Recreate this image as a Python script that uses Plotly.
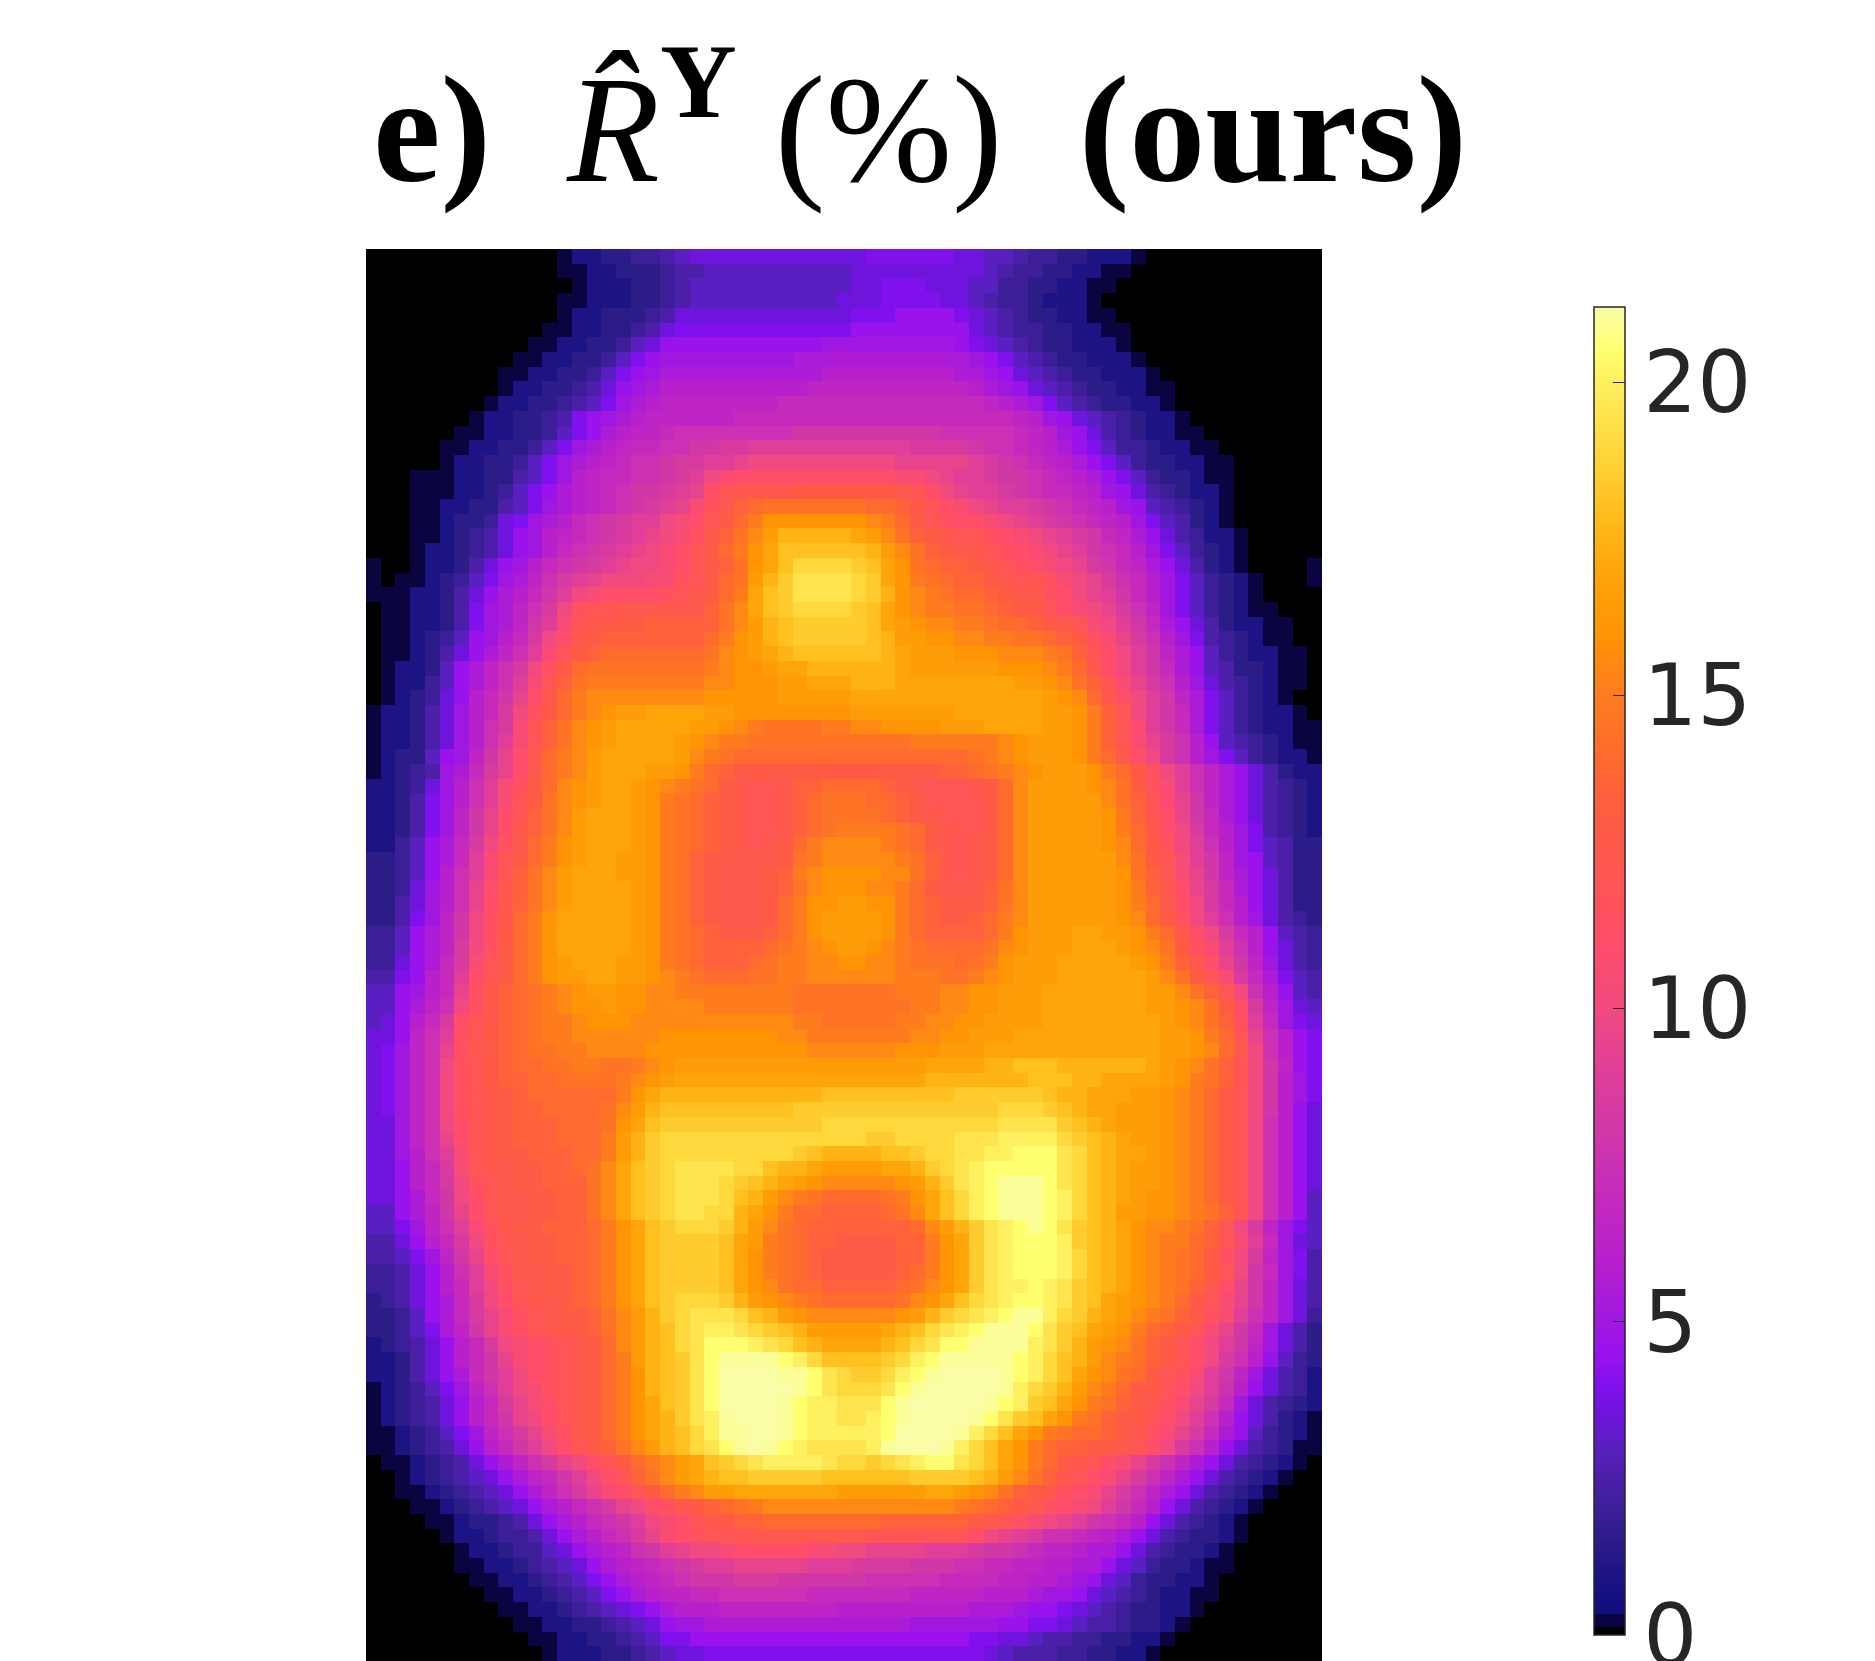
import plotly.graph_objects as go

# Residual per cell, in half-percent steps (1 = outline cells just above zero)
rows = [
    [0]*13+[1,2,2,3,3,4,4,5,6]+[7]*12+[8]*6+[7,7,6,6,5,4,4,3,3,2,2,2,1],
    [0]*13+[1,1,2,2,3,3,3,4,5,5,6,6]+[6]*8+[7]*9+[6,5,4,4,3,3,2,2,1,1],
    [0]*14+[1,2,2,2,3,3,4,5,6,6]+[6]*9+[7,7,8,8,8,7,7,7,6,6,4,4,3,3,2,2,1,1],
    [0]*13+[1,1,2,2,2,3,3,4,5]+[6]*10+[7,7,7,8,8,8,8,7,7,6,5,4,4,3,2,2,2,1],
    [0]*13+[1,2,2,3,3,3,4,5]+[7]*12+[8,8,8,9,9,9,9,8,7,6,5,4,3,3,2,2,1,1],
    [0]*12+[1,1,2,2,3,3,4,5,7]+[8]*12+[9]*8+[7,6,5,4,4,3,3,2,2,1,1],
    [0]*11+[1,1,2,2,3,3,4,6,7]+[9]*11+[10]*9+[9,8,7,6,5,4,3,3,2,2,2,1],
    [0]*10+[1,1,2,2,3,3,4,6,8,9]+[10]*9+[11]*12+[10,9,8,6,5,4,3,3,2,2,2,1],
    [0]*9+[1,1,2,2,3,3,4,6,8,9,10]+[11]*11+[12]*9+[11,11,10,9,7,6,5,4,3,3,2,2,2,1],
    [0]*9+[1,2,2,3,3,4,5,7,9,10,11]+[12]*10+[13]*11+[12,11,10,9,7,6,5,4,3,3,2,2,1,1],
    [0]*8+[1,2,2,3,3,4,5,6,8,10,11,12]+[13]*8+[14]*14+[13,12,11,10,8,6,5,4,3,3,2,2,1],
    [0]*7+[1,2,2,3,3,4,5,8,9,10,11,12]+[13]*6+[14]*19+[13,12,10,9,7,6,5,4,3,2,2,1],
    [0]*6+[1,1,2,2,3,3,4,6,8,9,11,12,13,13,14]+[15]*8+[16]*10+[15]*5+[14,13,12,10,9,7,5,4,3,2,2,1,1],
    [0]*5+[1,1,2,2,3,3,4,6,8,10,11,12,13,14,14,15,15,16,16,17,17]+[18]*11+[17]*4+[16,15,15,14,13,12,11,9,8,6,4,4,3,2,2,1,1],
    [0]*5+[1,2,2,3,3,4,6,8,10,11,12,13,14,15,15,16,17,17,18,18,19]+[20]*10+[19]*5+[18,17,16,15,14,13,12,11,9,8,6,4,3,3,2,2,1,1],
    [0]*3+[1,1,1,2,2,3,3,5,6,8,10,12,13,14,14,15,15,16,17,18,20,21]+[22]*11+[21,21,20,19,18,18,17,16,16,15,14,13,12,11,9,8,6,4,3,3,2,1,1],
    [0]*3+[1,1,1,2,2,3,4,6,8,9,11,12,13,14,15,16,16,17,18,19,22,24]+[25]*4+[26]*7+[25,24,22,20,19,18,18,17,16,15,14,14,13,12,10,9,7,5,4,3,2,2,1],
    [0]*3+[1,1,2,2,3,3,5,6,8,10,11,12,13,14,15,16,17,18,19,21,23,25,27,28]+[29]*7+[28,28,27,26,24,22,21,20,19,18,18,17,16,15,14,13,12,10,9,6,5,4,3,2,1],
    [0]*3+[1,1,2,3,3,4,7,8,10,11,12,14,15,16,17,18,18,20,21,22,24,26,28,30]+[32]*7+[31,30,28,26,24,23,22,22,21,20,19,18,17,16,15,14,13,12,10,8,6,5,3,2,1],
    [0]*3+[1,1,2,3,4,5,7,9,10,12,13,14,15,16,17,18,19,20,21,23,25,27,29,31,33]+[35]*5+[34,33,31,29,27,26,25,24,24,23,22,21,20,19,18,17,16,14,13,11,9,7,5,4,2,2,1],
    [0]*3+[1,2,2,3,4,5,7,9,10,12,14,15,16,17,18,19,20,21,22,24,26,28,30,32,34,36]+[36]*4+[36,35,33,31,29,27,26,25,25,24,23,22,21,20,19,18,16,15,14,12,10,8,6,4,3,2,1],
    [1,0,0,1,2,2,3,5,7,9,10,12,14,15,16,17,18,19,20,20,21,22,24,25,27,29,32,34,36]+[38]*4+[37,36,34,32,29,28,27,27,26,25,24,23,22,21,20,19,17,16,14,13,11,9,7,5,3,2,1,0,0,0,0,1],
    [1,0,1,1,2,3,4,6,8,10,11,13,15,17,18,19,20,20,20,21,21,23,24,26,28,29,33,35,37]+[39]*4+[38,37,34,32,30,29,28,27,27,26,25,24,24,23,21,20,19,17,15,14,12,10,8,6,4,3,2,1,0,0,0,1],
    [1,1,1,2,2,3,5,7,9,11,12,14,16,18,20,21,22,22,22,22,23,24,25,26,28,30,34,36,37]+[39]*4+[38,37,35,32,31,30,29,28,28,27,26,25,25,23,22,20,19,18,16,14,12,10,8,6,4,3,2,1],
    [0,1,1,2,2,3,5,8,10,11,13,15,17,20,23,24,24,25,25,25,25,25,25,27,29,31,34,36,37,38,38,38,38,37,36,34,32,31,30,30,29,29,28,27,26,26,24,22,21,20,19,17,15,13,10,8,6,4,3,2,1,1],
    [0,1,1,2,2,3,5,8,10,11,13,16,18,21,24,25,26,26,26,27,27,27,27,27,29,31,33,35,36,37,37,37,37,37,36,34,33,32,31,31,30,30,29,28,28,27,26,25,24,21,20,18,16,14,11,9,7,5,3,2,2,1,1],
    [0,1,1,2,3,4,6,9,10,12,14,17,20,22,25,26,27,27,27,27,27,27,27,28,30,32,33,35,36,37,37,37,37,37,36,35,33,33,32,32,31,31,30,30,29,29,28,27,26,23,21,19,17,15,12,10,8,5,4,3,2,1,1],
    [0,1,1,2,3,5,7,9,11,13,15,18,21,24,26,27,28,28,28,28,28,28,28,29,31,32,33,34,35,36,36,36,36,36,36,35,34,33,33,33,32,32,32,31,31,31,30,29,27,24,22,20,18,16,13,11,9,6,4,3,2,2,1,1],
    [0,1,2,2,3,6,9,11,13,15,17,20,23,26,28,29,29,29,29,29,29,29,29,30,31,32,32,33,34,34,35,35,35,35,35,35,34,33,33,33,33,33,33,32,32,32,31,30,28,25,22,20,18,16,14,11,9,6,5,3,3,2,1,1],
    [0,1,2,2,4,6,9,11,13,15,18,21,24,27,29,30,30,30,30,30,30,30,30,31,31,32,32,32,33,33,34,34,34,35,35,35,34,34,34,34,34,34,34,34,33,33,32,31,29,27,24,21,19,17,15,12,10,7,5,4,3,2,1,1],
    [0,1,2,3,4,7,9,12,14,16,19,22,25,28,30,31,31,31,31,31,31,31,31,32,32,32,32,32,33,33,33,33,33,34,34,34,34,34,34,34,34,34,34,34,34,34,33,32,31,28,25,22,20,18,16,13,11,8,6,4,3,2,1],
    [1,2,2,3,5,7,10,12,14,17,20,23,26,28,30,31,32,33,33,34,34,34,34,33,33,32,32,32,32,32,32,32,32,33,33,33,33,33,33,33,34,34,34,34,34,34,33,33,32,30,27,24,20,18,16,14,11,8,6,4,3,2,2,1],
    [1,2,2,3,5,7,10,12,15,17,21,24,27,29,31,32,33,34,34,34,34,34,33,33,32,31,30,29,29,29,29,30,30,31,31,32,32,32,32,33,33,33,34,34,34,34,33,33,32,30,27,24,21,18,16,14,11,8,6,4,3,2,2,1,1],
    [1,2,2,3,5,7,10,12,15,18,21,24,27,29,31,32,33,34,34,34,34,33,32,31,30,30,29,29,29,29,29,29,29,29,29,29,29,30,30,30,30,30,30,31,32,33,33,33,32,30,27,24,21,19,17,15,12,9,6,5,4,3,2,1,1],
    [1,2,3,3,6,9,10,13,16,19,22,25,28,30,31,33,34,34,34,34,34,33,31,30,29]+[28]*16+[29,30,31,32,33,33,33,32,30,28,25,22,20,17,15,12,10,8,6,4,3,2,2,1],
    [1,2,3,4,5,10,11,14,17,19,22,25,28,30,31,33,34,34,34,33,33,32,30,28,27]+[26]*14+[27,27,28,29,30,31,32,33,33,33,32,30,28,26,23,20,18,15,13,11,9,7,5,3,2,2],
    [2,2,3,4,7,10,12,15,18,21,23,26,28,31,32,33,34,34,33,32, 31,30,29,28,26,25,24,24,25,27,27,28,28,28,28,27,26,25,24,24,24,25,26,28,31, 33,33,33,33,32,31,29,26,23,21,18,15,13,11,9,7,5,4,3,2],
    [2,2,3,5,8,10,12,15,18,21,24,26,29,31,32,33,34,34,33,32, 30,29,28,27,26,25,24,24,25,27,28,29,29,29,28,28,27,26,24,24,24,24,26,28,31, 33,33,33,33,33,31,29,27,24,21,19,16,13,11,9,7,5,4,3,2],
    [2,2,3,5,8,10,13,16,19,22,24,27,29,31,33,34,34,34,33,32, 30,29,28,27,26,25,24,24,25,27,28,29,29,29,29,28,27,26,25,24,24,24,26,28,31, 33,33,33,33,33,32,30,27,24,22,19,16,14,11,9,7,5,4,3,2],
    [2,2,3,5,8,10,13,16,19,22,25,27,29,31,33,34,34,34,33,32, 30,29,28,27,26,25,24,24,25,27,28,29,30,30,30,30,29,28,26,25,24,24,26,28,31, 33,33,33,33,33,32,30,28,25,22,20,17,14,12,10,8,5,4,3,2],
    [2,2,4,6,9,11,14,17,20,23,25,28,30,32,33,34,34,34,33,32, 30,29,28,27,26,25,24,25,26,28,30,31,31,31,31,30,29,28,26,25,24,25,26,28,31, 33,33,33,33,33,32,31,28,26,23,20,18,15,12,10,8,6,5,3,3],
    [3,3,4,6,9,11,14,18,21,24,26,28,30,32,33,34,34,33,33,32, 30,29,27,26,25,25,25,25,26,29,30,31,31,31,31,31,30,29,27,25,24,25,26,28,31, 33,33,33,33,33,33,31,29,26,24,21,18,16,13,10,9,6,5,3,3],
    [3,3,4,6,9,12,15,18,21,24,27,29,31,33,34,34,34,33,33,32, 30,29,27,26,25,25,25,26,27,30,31,32,32,32,32,31,31,29,27,25,24,25,26,28,31, 33,33,33,33,33,33,32,29,27,24,21,19,16,13,11,9,7,5,3,3],
    [3,3,4,7,10,12,15,19,22,25,27,29,31,33,34,34,34,34,33,32, 30,29,27,26,25,25,25,26,27,29,31,32,32,32,31,31,30,28,26,25,25,25,27,29,31, 33,33,33,33,33,33,32,30,27,25,22,19,17,14,11,9,7,5,3,3],
    [3,3,5,7,10,12,15,19,22,25,27,29,31,33,34,34,34,34,33,32, 30,29,27,26,25,25,25,26,28,30,32,32,33,33,32,32,30,28,27,26,26,26,27,29,31, 33,33,33,33,33,33,32,30,28,25,22,20,17,14,12,9,7,5,3,3],
    [3,3,5,8,10,13,16,20,23,25,28,30,32,34,34,34,34,34,33,32, 30,29,27,26,25,25,25,26,28,30,32,33,33,33,33,32,30,28,27,26,26,27,28,30,31, 33,33,33,33,33,33,32,31,28,26,23,20,18,15,12,10,7,5,4,3],
    [4,4,6,9,11,13,16,20,23,26,28,30,32,34,34,34,34,34,33,32, 30,29,28,27,26,26,26,27,28,30,32,33,33,33,33,32,30,28,27,27,27,27,28,30,32, 33,33,33,34,34,33,33,32,30,28,25,22,20,17,14,12,9,6,5,4],
    [4,4,6,9,11,13,17,20,23,26,28,30,32,34,34,34,34,34,33,32, 30,29,28,27,27,27,27,28,29,30,31,32,33,33,32,31,30,29,28,28,28,28,29,31,32, 33,33,33,34,34,34,33,32,31,29,26,23,21,18,15,12,9,7,5,4],
    [4,4,7,9,11,14,17,21,24,26,28,30,32,33,34,34,34,33,33,32, 30,29,28,27,27,27,28,29,30,30,31,31,32,32,31,31,30,29,29,29,28,29,30,32,33, 33,33,34,34,34,34,34,33,32,30,27,25,22,19,16,13,10,7,5,4],
    [5,5,8,9,12,14,18,22,24,26,28,30,32,33,33,34,34,33,33,32, 31,30,29,28,28,28,29,29,30,30,31,31,31,31,31,31,30,30,30,29,29,30,31,32,33, 33,33,34,34,34,34,34,34,33,31,29,26,24,21,17,14,11,8,6,5],
    [6,6,9,10,12,14,19,23,25,27,28,29,30,31,32,33,33,32,32,31, 31,30,30,30,30,30,30,30,30,29,29,29,29,29,29,29,30,30,30,31,31,32,32,33,33, 33,34,34,34,34,34,34,34,33,33,31,29,27,24,20,15,12,9,6,5],
    [6,6,9,11,13,15,20,23,25,27,28,29,30,31,32,32,33,32,32,31, 31,31,31,30,30,30,30,30,30,29,29,29,29,29,29,29,29,30,30,31,31,32,32,33,33, 33,34,34,34,34,34,34,34,33,33,32,31,29,26,22,17,13,10,7,6],
    [6,7,9,12,14,17,22,24,25,27,28,29,30,30,31,32,32,32,31,31, 31,31,31,31,31,31,31,31,31,30,30,29,29,29,29,29,30,30,31,31,32,32,33,33,33, 33,34,34,34,34,34,34,34,34,33,32,31,29,27,23,18,14,10,8,7],
    [7,7,9,13,15,18,23,24,26,27,28,29,30,30,31,31,31,31,31,31, 32,32,32,32,32,32,32,32,31,31,30,30,30,30,30,30,30,31,31,32,32,33,33,33,34, 34,34,34,34,34,34,34,34,34,33,33,32,30,28,24,19,15,12,9,8],
    [7,8,10,13,15,19,23,25,26,27,28,29,29,30,30,31,31,31,31,32, 32,32,32,32,32,32,32,32,32,32,31,31,31,31,31,31,32,32,32,33,33,33,34,34,34, 34,34,34,34,34,34,34,34,34,33,33,32,31,28,25,20,15,12,9,8],
    [7,8,10,13,15,20,23,24,26,27,28,28,29,29,30,30,29,29,30,31,32,33,33,33,33,33,33,33,33,33,33,33,33,33,33,33,33,33,34,34,34,34,35,35,36,36,36,35,35,35,35,35,35,34,33,32,31,29,27,24,20,16,13,9,8],
    [7,8,10,13,15,20,23,24,26,27,27,28,28,29,29,29,29,30,31,32,33,34,34,34,34,34,34,34,34,34,34,34,34,34,34,34,34,34,35,35,35,35,35,35,35,36,36,36,35,35,34,34,34,34,33,32,30,29,27,24,20,16,12,10,8],
    [7,8,10,13,15,20,23,24,25,26,27,28,28,28,28,28,28,30,32,34,35,35,35,35,35,35,35,35,35,35,35,36,36,36,36,36,36,36,36,36,37,37,37,37,37,37,36,35,35,34,34,34,33,33,32,31,30,28,26,24,20,16,12,10,8],
    [7,8,10,13,15,20,23,24,25,26,27,27,28,28,28,28,29,31,33,35,36,36,36,36,36,36,36,36,36,37,37,37,37,37,37,37,37,37,37,37,37,37,37,38,38,38,37,36,35,34,34,33,33,33,32,31,30,28,26,24,20,16,12,9,7],
    [7,7,10,13,15,20,22,24,25,26,27,27,27,28,28,28,29,32,34,36,37,37,37,37,37,37,37,37,37,37,37,38,38,38,38,38,38,38,38,38,38,38,38,39,39,39,39,37,36,35,34,33,33,33,32,31,30,28,26,24,20,15,12,9,7],
    [7,7,10,13,15,19,22,24,25,26,27,27,27,28,28,28,30,33,35,37,38,38,38,38,38,38,38,38,38,38,38,38,38,38,37,37,38,38,38,38,39,39,39,40,40,40,40,38,37,36,35,34,33,33,32,31,30,28,26,24,20,15,12,9,7],
    [7,7,10,12,15,18,21,24,25,26,26,27,27,27,28,28,30,33,35,37,38,38,38,38,38,38,38,38,38,37,36,35,35,35,35,36,36,37,38,38,39,39,40,40,41,41,41,39,38,36,35,34,34,33,32,31,30,28,26,24,20,15,12,9,7],
    [7,7,9,12,14,17,21,24,25,25,26,26,27,27,28,29,31,34,36,37,38,39,39,39,39,38,38,36,35,35,34,33,33,33,33,34,34,35,37,38,39,40,41,41,41,41,41,39,38,36,35,34,33,33,32,31,30,28,26,24,20,15,12,9,7],
    [7,7,9,12,14,17,20,23,24,25,26,26,27,27,27,29,31,34,36,37,38,39,39,39,38,37,36,35,34,33,32,31,31,31,31,31,32,33,35,37,39,40,41,42,42,42,41,39,38,36,35,34,33,33,32,31,30,28,26,24,20,15,12,9,7],
    [7,7,9,11,14,16,20,22,24,25,25,26,26,27,27,29,31,34,36,37,38,39,39,39,38,36,35,33,31,30,29,28,28,28,28,29,30,32,34,36,38,40,41,42,42,42,41,40,38,36,35,34,33,32,32,31,30,28,26,24,20,15,12,9,6],
    [6,6,9,11,13,16,19,22,24,25,25,26,26,27,27,29,31,34,36,37,38,39,39,38,38,35,34,32,30,28,28,27,27,27,27,28,29,31,34,36,38,40,41,42,42,42,41,40,38,36,35,33,33,32,32,31,30,29,27,24,20,15,12,9,6],
    [6,6,8,10,13,15,18,21,23,25,26,26,27,27,27,28,30,32,34,36,37,38,38,38,37,35,33,31,29,28,27,27,27,27,27,27,27,28,31,33,35,37,39,40,41,42,41,39,37,36,35,34,32,31,31,30,29,27,24,20,17,13,10,8,6],
    [5,5,7,9,12,14,17,20,23,24,25,26,26,27,27,28,30,32,34,36,37,37,37,37,36,34,33,30,29,28,27,27,26,26,26,26,27,27,30,32,34,37,39,40,41,41,41,40,37,36,35,34,32,31,30,30,28,27,24,21,18,14,10,7,6],
    [5,5,6,8,10,13,16,19,22,24,25,26,26,27,27,28,30,32,34,36,37,37,37,37,36,34,32,30,29,28,27,26,26,26,26,26,27,27,30,32,34,37,39,40,41,41,41,40,38,36,35,34,32,31,30,29,28,26,23,20,17,13,10,8,5],
    [4,4,5,7,9,12,15,18,21,23,25,25,26,26,27,28,30,32,34,36,37,37,37,37,36,34,32,30,29,28,27,26,26,26,26,26,27,28,30,32,34,37,39,40,41,41,41,40,38,36,35,34,32,31,30,29,28,26,24,20,16,14,10,8,5],
    [4,4,5,7,9,12,14,18,20,23,24,25,26,26,27,28,30,32,34,36,37,37,37,37,36,34,32,31,29,28,28,27,27,27,27,27,28,29,31,32,34,37,39,40,40,41,40,39,37,36,35,34,32,31,30,29,27,25,22,19,16,13,10,7,5],
    [3,4,5,7,9,11,14,17,20,22,24,25,25,26,27,28,30,32,34,36,37,38,38,38,37,35,33,32,31,30,29,28,28,28,28,28,29,31,32,34,36,38,39,40,41,41,40,39,37,36,34,33,32,31,30,28,26,24,21,19,16,13,10,7,5],
    [3,3,4,6,9,11,14,17,19,21,23,24,25,26,26,27,29,31,33,35,37,38,39,39,39,38,36,35,33,32,31,31,31,31,31,31,32,33,35,37,38,39,40,41,42,42,40,38,37,35,34,33,31,30,29,27,26,23,21,18,15,13,10,7,4],
    [3,3,4,6,8,11,13,16,19,21,23,24,25,26,26,27,29,31,33,35,36,38,39,40,40,39,38,37,36,35,33,33,33,33,33,34,35,36,38,39,40,41,42,42,42,41,39,37,36,34,33,32,30,28,27,26,24,21,19,16,14,10,7,5,3],
    [2,3,4,5,7,9,12,14,17,20,21,22,23,24,25,26,28,31,33,35,36,38,39,41,41,41,40,39,38,36,35,34,34,34,34,35,36,38,39,41,41,42,42,42,42,40,39,37,35,33,32,31,29,27,26,24,22,20,18,16,13,10,7,5,3],
    [2,2,3,5,7,9,12,14,16,19,21,22,23,24,25,26,28,30,33,35,36,37,39,41,42,42,42,42,41,40,38,36,36,36,36,37,38,40,41,42,42,42,42,42,41,40,38,36,35,33,31,30,29,27,26,24,22,20,17,15,12,9,6,4,3],
    [2,2,3,5,7,9,11,14,16,18,20,22,23,24,25,26,28,30,32,35,36,37,39,41,43,43,43,43,42,42,41,39,38,37,37,38,40,41,42,43,43,43,43,42,41,40,38,36,34,32,31,29,28,26,24,23,21,18,16,13,10,7,5,4,2],
    [1,2,3,4,6,8,10,13,15,18,20,21,23,24,25,26,28,30,32,35,36,37,39,41,43,43,43,43,43,42,41,39,38,38,38,39,41,42,43,43,43,43,43,42,40,38,37,35,33,31,30,28,26,26,24,22,20,18,15,12,9,7,5,4,2],
    [1,2,3,4,5,7,9,12,14,17,19,21,22,24,25,26,28,30,32,34,36,37,39,41,43,43,43,43,42,41,40,40,39,39,39,41,42,43,43,43,43,43,42,41,40,37,36,34,32,30,29,27,26,25,23,21,19,17,14,10,7,5,4,3,2],
    [1,2,3,4,5,7,9,12,14,16,19,20,22,24,25,26,28,30,32,34,35,37,39,40,42,43,43,43,42,41,40,40,39,39,40,41,42,43,43,43,43,42,41,39,37,36,34,32,30,29,27,26,26,24,22,20,18,15,12,9,7,5,3,2,1],
    [1,1,2,3,4,6,8,10,13,15,17,19,21,23,25,26,28,30,32,34,35,36,38,40,42,42,43,43,42,41,40,40,40,40,40,41,43,43,43,43,42,40,38,36,34,32,30,29,28,28,27,26,25,23,21,19,17,14,11,9,6,4,3,2,1],
    [1,1,2,3,4,5,7,9,12,14,16,18,20,22,24,26,27,29,31,33,35,36,38,39,41,42,43,42,41,40,39,39,39,39,40,42,43,43,43,42,40,38,36,34,32,30,28,27,27,26,26,25,24,22,20,17,15,12,9,7,5,4,3,1,1],
    [0,1,1,2,3,4,5,7,9,11,13,15,17,19,20,22,24,26,28,30,31,33,34,36,37,38,39,40,40,40,40,39,38,38,37,38,39,40,41,41,39,38,36,34,32,30,28,26,25,24,22,21,19,17,15,13,11,9,7,5,4,3,2,1],
    [0,0,1,2,3,4,5,6,7,9,11,13,14,16,18,20,22,24,27,29,31,33,34,35,36,36,37,37,37,37,37,36,36,36,36,36,36,37,37,37,37,36,35,33,31,29,27,25,24,22,21,19,17,15,13,11,9,7,5,4,3,2,1],
    [0,0,1,1,2,3,4,5,6,7,9,11,13,15,17,19,21,22,24,26,28,30,31,33,33,34,34,34,34,34,34,34,33,33,33,33,33,33,34,34,33,32,31,29,27,26,25,23,22,21,19,17,15,13,11,9,7,5,4,3,2,1],
    [0,0,0,1,1,2,3,4,5,6,7,9,11,12,14,15,17,19,20,22,23,25,26,27,28,29,30,31,31,31,31,31,31,31,31,31,31,31,31,31,30,29,28,27,26,25,23,22,21,20,18,16,14,12,9,7,5,4,3,2,1],
    [0,0,0,0,1,1,2,3,3,4,5,7,9,11,12,14,15,16,18,20,21,22,24,25,26,27,27,28,28,28,28,28,28,28,28,27,27,27,27,27,27,26,25,24,23,21,20,19,18,16,15,14,12,9,7,5,4,3,2,1],
    [0,0,0,0,0,1,2,2,3,4,4,5,7,9,11,12,14,15,17,19,21,22,23,24,24,24,25,25,25,25,25,25,25,25,24,24,24,24,24,24,24,22,20,19,18,17,15,15,14,13,12,11,9,7,5,4,3,3,2,1],
    [0,0,0,0,0,0,1,2,2,3,4,4,6,7,9,11,12,13,15,16,18,19,20,20,21,22,22,22,22,22,21,21,20,20,19,19,19,19,18,18,18,17,16,16,15,14,13,13,12,11,11,9,7,5,4,3,3,2,1],
    [0,0,0,0,0,0,1,1,2,2,3,4,5,6,7,9,11,12,13,14,15,16,17,18,18,19,19,19,19,19,18,18,18,17,17,17,17,16,16,16,15,15,14,14,13,13,12,12,11,11,9,7,6,4,3,3,2,1,1],
    [0,0,0,0,0,0,0,1,1,2,2,3,4,5,6,8,9,11,12,13,14,15,16,16,16,17,17,17,16,16,16,16,16,16,15,15,15,15,15,14,14,14,14,13,13,12,12,11,10,9,7,6,4,3,3,2,2,1],
    [0,0,0,0,0,0,0,0,1,1,2,2,3,4,5,6,8,9,11,12,13,13,14,14,15,15,15,15,15,15,14,14,14,14,14,14,14,13,13,13,13,13,12,12,12,11,10,10,9,7,6,5,4,3,2,2,1,1],
    [0,0,0,0,0,0,0,0,0,1,1,2,2,3,4,5,6,7,8,9,11,12,12,12,13,13,13,13,13,13,13,13,12,12,12,12,12,12,12,12,12,11,11,11,10,9,9,8,7,6,5,4,3,3,2,2,1],
    [0,0,0,0,0,0,0,0,0,0,1,1,2,2,3,3,4,5,6,7,9,10,10,11,11,11,11,11,11,11,11,11,11,11,11,11,11,10,10,10,10,10,10,9,9,8,8,7,6,5,5,4,3,3,2,1],
    [0,0,0,0,0,0,0,0,0,0,0,1,1,2,2,3,3,4,5,6,8,8,9,9,9,9,9,9,9,9,9,9,9,9,9,9,9,9,9,9,9,8,8,7,7,6,5,5,4,4,3,3,2,2,1],
    [0]*12+[1,2,2,2,3,3,4,5,6,7,7]+[8]*19+[7,6,5,5,5,4,4,3,3,2,2,1],
]

color_values = [0, 0.13, 0.13, 0.33, 0.33, 0.6, 1, 1.5, 2, 2.5, 3, 3.5, 4, 4.5, 5, 6, 7, 8, 9, 10, 11, 12, 13, 14, 15, 16, 17, 18, 19, 20, 20.5, 21.2]
color_hexes = ['#000000', '#000000', '#0a0540', '#0a0540', '#120e7a', '#140f80', '#1c1484', '#2c1c88', '#3c1f98', '#4c1fa8', '#5a1fc0', '#6e14dc', '#8010ee', '#9a12ec', '#a018e0', '#b820cc', '#c52abc', '#d038a8', '#e03e98', '#f04a80', '#ff4d6a', '#ff5555', '#ff5a45', '#ff6a2e', '#ff7c1e', '#ff9505', '#ffa50a', '#ffc020', '#ffd83e', '#fff060', '#ffff70', '#fafda8']
tick_values = [0, 5, 10, 15, 20]
z_max = 21.2

z = [[0.25 if v == 1 else v / 2 for v in (r + [0] * 65)[:65]] for r in rows]

fig = go.Figure(go.Heatmap(
    z=z,
    zmin=0,
    zmax=z_max,
    colorscale=[[v / z_max, c] for v, c in zip(color_values, color_hexes)],
    colorbar=dict(
        thicknessmode='pixels', thickness=31,
        lenmode='pixels', len=1328,
        x=1.2845, xanchor='left', xpad=0,
        y=0.9589, yanchor='top', ypad=0,
        tickmode='array', tickvals=tick_values,
        ticks='inside', ticklen=12, tickwidth=1, tickcolor='#262626',
        ticklabeloverflow='allow',
        outlinecolor='#262626', outlinewidth=1.5, borderwidth=0,
        tickfont=dict(family='DejaVu Sans', size=85, color='#262626'),
    ),
    hovertemplate='%{z}%<extra></extra>',
))

fig.update_xaxes(visible=False, range=[-0.5, 64.5])
fig.update_yaxes(visible=False, range=[95.5, -0.5])

# The page body adds an 8px margin, so the figure is 8px smaller than the window
fig.update_layout(
    width=1867,
    height=1653,
    margin=dict(l=358, r=553, t=241, b=0),
    paper_bgcolor='white',
    plot_bgcolor='white',
    title=dict(
        text='<b>e)</b>\u00a0\u00a0<i>R\u0302</i><sup><b>Y</b></sup> (%) \u00a0<b>(ours)</b>',
        font=dict(family='Liberation Serif', size=152, color='black'),
        xref='container', x=0.4885, xanchor='center',
        yref='container', y=0.9274, yanchor='middle',
    ),
)

fig.write_html('out.html')
